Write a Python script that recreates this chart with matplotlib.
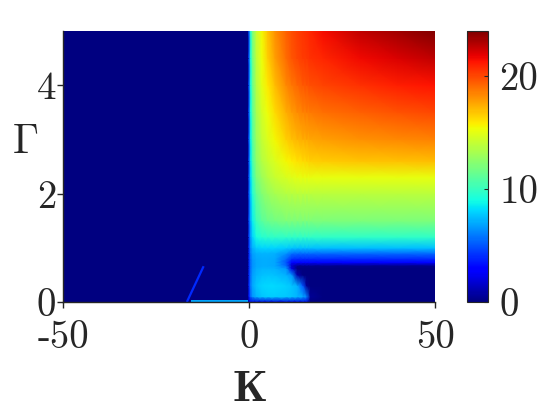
import numpy as np
import matplotlib
matplotlib.use("Agg")
import matplotlib.pyplot as plt

plt.rcParams["font.family"] = "serif"
plt.rcParams["font.serif"] = ["cmr10", "DejaVu Serif"]
plt.rcParams["mathtext.fontset"] = "cm"

# -------------------------------------------------
# Grid
# -------------------------------------------------
K = [-50, -0.05, 0, 0.5, 1, 2, 3.5, 5, 7, 10, 11.5, 13, 14.5, 15.5, 16.5, 20, 30, 40, 50]
G = [0, 0.1, 0.3, 0.5, 0.62, 0.67, 0.73, 0.8, 0.9, 1.0, 1.2, 1.5, 2.0, 2.3, 2.6, 3.0, 3.5, 4.0, 4.5, 5.0]

Z = [
    [0, 0, 2.0, 2.0, 2.0, 2.0, 2.0, 2.0, 2.0, 2.0, 2.0, 2.0, 2.0, 2.0, 0, 0, 0, 0, 0],
    [0, 0, 3.5, 5.5, 6.5, 7.2, 7.6, 7.8, 7.8, 7.7, 7.5, 7.3, 7.0, 6.0, 0.5, 0, 0, 0, 0],
    [0, 0, 4.0, 6.0, 7.0, 7.6, 8.0, 8.1, 8.1, 7.9, 7.6, 7.2, 5.0, 0.5, 0, 0, 0, 0, 0],
    [0, 0, 4.0, 5.9, 6.8, 7.3, 7.5, 7.6, 7.5, 7.2, 6.5, 1.0, 0, 0, 0, 0, 0, 0, 0],
    [0, 0, 4.0, 5.8, 6.6, 7.1, 7.3, 7.3, 7.2, 6.5, 2.0, 0, 0, 0, 0, 0, 0, 0, 0],
    [0, 0, 4.0, 5.8, 6.5, 7.0, 7.1, 7.1, 7.0, 5.5, 1.5, 0.3, 0.3, 0.3, 0.3, 0.3, 0.3, 0.3, 0.3],
    [0, 0, 4.0, 5.8, 6.5, 7.0, 7.1, 7.1, 7.0, 5.0, 3.0, 3.0, 3.0, 3.0, 3.0, 3.0, 3.0, 3.0, 3.0],
    [0, 0, 4.0, 5.8, 6.6, 7.0, 7.1, 7.1, 7.0, 5.5, 4.3, 4.1, 4.1, 4.1, 4.1, 4.1, 4.1, 4.1, 4.1],
    [0, 0, 4.0, 6.0, 6.8, 7.2, 7.3, 7.3, 7.2, 6.5, 5.8, 5.6, 5.6, 5.6, 5.6, 5.6, 5.6, 5.6, 5.6],
    [0, 0, 4.2, 6.3, 7.2, 7.8, 8.0, 8.0, 8.0, 7.8, 7.6, 7.5, 7.5, 7.5, 7.5, 7.5, 7.5, 7.5, 7.5],
    [0, 0, 4.5, 6.8, 8.0, 9.0, 9.5, 9.7, 9.8, 9.8, 9.8, 9.8, 9.8, 9.8, 9.8, 9.8, 9.8, 9.8, 9.8],
    [0, 0, 4.8, 7.2, 8.7, 10.2, 11.0, 11.5, 11.8, 12.0, 12.0, 12.0, 12.0, 12.0, 12.0, 12.0, 12.0, 12.0, 12.0],
    [0, 0, 5.0, 7.8, 9.4, 11.2, 12.2, 12.8, 13.3, 13.6, 13.7, 13.8, 13.8, 13.8, 13.8, 13.8, 13.8, 13.8, 13.8],
    [0, 0, 5.0, 8.2, 10.0, 12.0, 13.0, 13.6, 14.2, 14.7, 14.9, 15.0, 15.1, 15.1, 15.1, 15.1, 15.1, 15.1, 15.1],
    [0, 0, 5.0, 8.6, 10.5, 12.5, 13.6, 14.2, 14.8, 15.5, 15.8, 16.1, 16.3, 16.4, 16.5, 16.6, 16.8, 16.9, 17.0],
    [0, 0, 5.0, 8.8, 10.9, 12.9, 14.1, 14.8, 15.5, 16.5, 16.9, 17.2, 17.4, 17.5, 17.6, 17.8, 18.1, 18.3, 18.5],
    [0, 0, 5.0, 9.0, 11.2, 13.3, 14.6, 15.3, 16.3, 17.4, 17.9, 18.2, 18.5, 18.6, 18.7, 19.0, 19.4, 19.7, 20.0],
    [0, 0, 5.0, 9.2, 11.5, 13.6, 15.0, 15.9, 17.0, 18.3, 18.8, 19.2, 19.5, 19.6, 19.8, 20.1, 20.6, 21.0, 21.3],
    [0, 0, 5.0, 9.4, 11.8, 13.9, 15.3, 16.5, 17.8, 19.1, 19.6, 20.0, 20.3, 20.4, 20.6, 20.9, 21.6, 22.1, 22.6],
    [0, 0, 5.0, 9.6, 12.0, 14.2, 15.5, 16.8, 18.1, 19.4, 19.8, 20.2, 20.5, 20.7, 20.9, 21.5, 22.6, 23.3, 24.0],
]

# thin features on the K<0 side
diag_K = [-16.7, -12.2]
diag_G = [0.0, 0.66]
diag_val = 4.0
floor_K = [-15.5, -0.3]
floor_G = [0.025, 0.025]
floor_val = 7.0

xticks = [-50, 0, 50]
xticklabels = ["-50", "0", "50"]
yticks = [0, 2, 4]
cticks = [0, 10, 20]
vmin, vmax = 0, 24

# -------------------------------------------------
# Figure
# -------------------------------------------------
dark = "#262626"
fig = plt.figure(figsize=(5.6, 4.2), dpi=100)
ax = fig.add_axes([0.1125, 0.281, 0.6643, 0.645])
cax = fig.add_axes([0.834, 0.281, 0.0375, 0.645])

cmap = plt.get_cmap("jet")
norm = plt.Normalize(vmin, vmax)
mesh = ax.pcolormesh(K, G, np.array(Z), shading="gouraud", cmap=cmap, norm=norm)

ax.plot(diag_K, diag_G, color=cmap(norm(diag_val)), lw=1.6, solid_capstyle="butt")
ax.plot(floor_K, floor_G, color=cmap(norm(floor_val)), lw=1.4, solid_capstyle="butt")

ax.set_xlim(-50, 50)
ax.set_ylim(0, 5)
ax.set_xticks(xticks)
ax.set_xticklabels(xticklabels)
ax.set_yticks(yticks)
ax.set_yticklabels([str(t) for t in yticks])
for s in ["top", "right"]:
    ax.spines[s].set_visible(False)
for s in ["left", "bottom"]:
    ax.spines[s].set_color(dark)
    ax.spines[s].set_linewidth(1.0)
    ax.spines[s].set_zorder(5)
ax.tick_params(direction="out", length=4, width=1.0, color=dark,
               labelcolor=dark, labelsize=28)
ax.tick_params(axis="x", pad=9)
ax.tick_params(axis="y", pad=1)

ax.set_xlabel(r"$\mathbf{K}$", fontsize=32, color=dark, labelpad=10)
ax.set_ylabel(r"$\Gamma$", fontsize=30, color=dark, rotation=0, va="center")
ax.yaxis.set_label_coords(-0.102, 0.59)

cb = fig.colorbar(mesh, cax=cax)
cb.set_ticks(cticks)
cb.set_ticklabels([str(t) for t in cticks])
cb.outline.set_edgecolor(dark)
cb.outline.set_linewidth(0.8)
cax.tick_params(direction="in", length=3, width=0.8, color=dark,
                labelcolor=dark, labelsize=28, pad=8)

fig.savefig("out.png", dpi=100)
